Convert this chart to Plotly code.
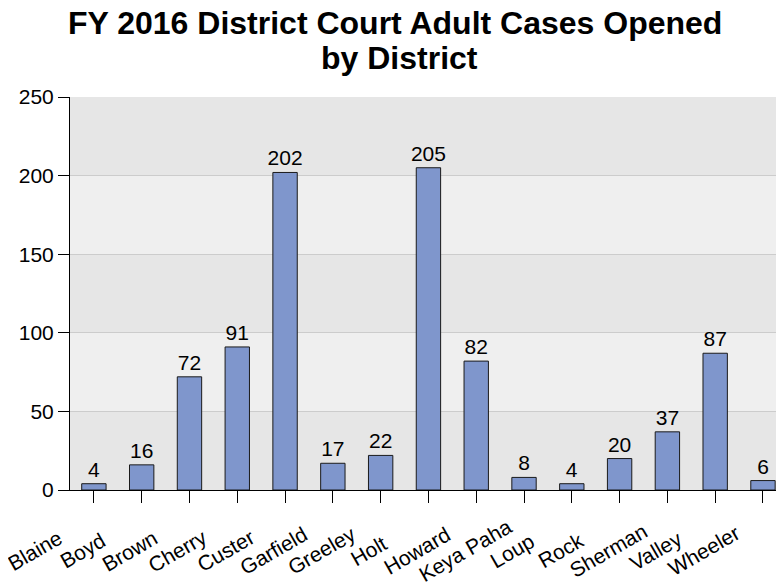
import plotly.graph_objects as go

districts = ["Blaine", "Boyd", "Brown", "Cherry", "Custer", "Garfield", "Greeley",
             "Holt", "Howard", "Keya Paha", "Loup", "Rock", "Sherman", "Valley", "Wheeler"]
cases = [4, 16, 72, 91, 202, 17, 22, 205, 82, 8, 4, 20, 37, 87, 6]
y_ticks = [0, 50, 100, 150, 200, 250]

title_lines = ["FY 2016 District Court Adult Cases Opened", "by District"]
font_family = "Liberation Sans, Arial, sans-serif"

x_pos = list(range(len(districts)))

fig = go.Figure()
fig.add_trace(go.Bar(
    x=x_pos,
    y=cases,
    text=[str(v) for v in cases],
    textposition="outside",
    constraintext="none",
    textfont=dict(size=21, color="#000000", family=font_family),
    marker=dict(color="#7F96CC", line=dict(color="#1a1a1a", width=1)),
    width=0.51,
    cliponaxis=False,
    showlegend=False,
))

# alternating background bands
band_colors = ["#e6e6e6", "#efefef"]
for i in range(len(y_ticks) - 1):
    fig.add_shape(type="rect", xref="paper", yref="y",
                  x0=0, x1=1, y0=y_ticks[i], y1=y_ticks[i + 1],
                  fillcolor=band_colors[i % 2], line=dict(width=0), layer="below")

# category labels: rotated, centre-anchored (as in the original chart)
for xi, name in zip(x_pos, districts):
    fig.add_annotation(text=name, xref="x", yref="paper", x=xi, y=-0.155,
                       xshift=-59, xanchor="center", yanchor="middle",
                       textangle=-30, showarrow=False,
                       font=dict(size=21, family=font_family, color="#000000"))

# two-line title (tighter spacing than plotly's default title)
title_y = [1.189, 1.098]
title_x = [0.455, 0.461]
for txt, ty, tx in zip(title_lines, title_y, title_x):
    fig.add_annotation(text=txt, xref="paper", yref="paper", x=tx, y=ty,
                       xanchor="center", yanchor="middle", showarrow=False,
                       font=dict(size=32, family=font_family, color="#000000", weight="bold"))

fig.update_layout(
    width=784, height=588,
    margin=dict(l=62, r=8, t=89, b=106, autoexpand=False),
    paper_bgcolor="white",
    plot_bgcolor="#e6e6e6",
    font=dict(family=font_family, size=21, color="#000000"),
    bargap=0.5,
)
fig.update_xaxes(
    tickmode="array", tickvals=x_pos, showticklabels=False,
    range=[-0.5, 14.44], automargin=False,
    ticks="outside", ticklen=12, tickcolor="#000000", tickwidth=1,
    showline=True, linecolor="#000000", linewidth=1,
    showgrid=False, zeroline=False,
)
fig.update_yaxes(
    range=[0, 250], tickvals=y_ticks, automargin=False,
    ticks="outside", ticklen=11, tickcolor="#000000", tickwidth=1,
    showline=True, linecolor="#000000", linewidth=1,
    showgrid=True, gridcolor="#cccccc", gridwidth=1, zeroline=False,
    tickfont=dict(size=21, family=font_family),
)

fig.write_html("out.html")
